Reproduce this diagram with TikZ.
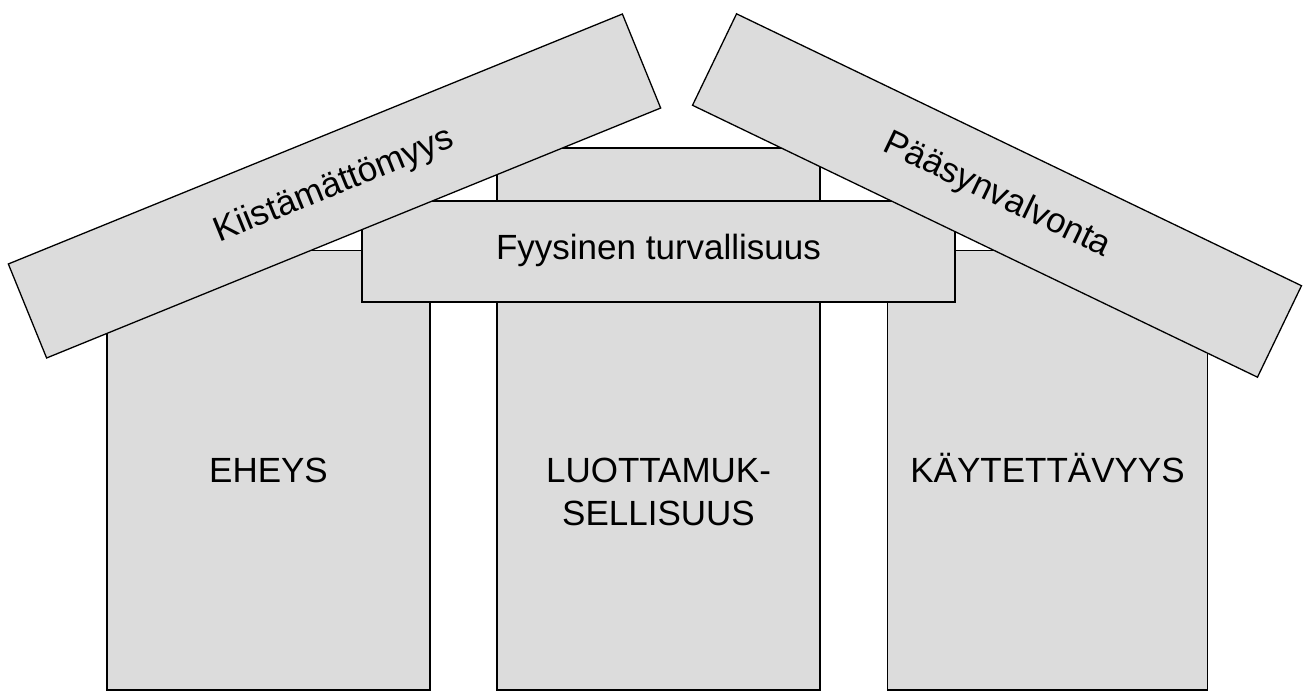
\documentclass[tikz,border=0pt]{standalone}
\usepackage{fontspec}
\setmainfont{Liberation Sans}
\definecolor{boxgray}{RGB}{220,220,220}
\tikzset{
  box/.style={rectangle, draw=black, fill=boxgray, line width=1.5pt, inner sep=0pt},
  lbl/.style={font=\fontsize{35}{43}\selectfont, inner sep=0pt, align=center},
  roof/.style={box, line width=1.3pt, font=\fontsize{35}{43}\selectfont, minimum height=101.5pt}
}
\begin{document}
\begin{tikzpicture}[x=1pt,y=-1pt]
\useasboundingbox (0,0) rectangle (1311,698);
% pillars
\node[box, minimum width=323pt, minimum height=439.5pt] (eheys) at (268.5,470.25) {};
\node[box, minimum width=320pt, minimum height=439.5pt] (kayt) at (1047.5,470.25) {};
\node[box, minimum width=323pt, minimum height=542pt] (luott) at (658.5,419) {};
% beam
\node[box, minimum width=593pt, minimum height=101pt] (fyys) at (658.5,251.5) {};
\node[lbl, anchor=base] (fyysT) at (658.5,259) {Fyysinen turvallisuus};
% pillar labels
\node[lbl, anchor=base] (eheysT) at (268.5,482.5) {EHEYS};
\node[lbl, anchor=base] (luottT) at (658.5,525.5) {LUOTTAMUK-\\SELLISUUS};
\node[lbl, anchor=base] (kaytT) at (1047.5,482.5) {KÄYTETTÄVYYS};
% roofs
\node[roof, minimum width=663pt, rotate=22.15] (kiista) at (334.5,186) {Kiistämättömyys};
\node[roof, minimum width=627pt, rotate=-25.7] (paasy) at (997,195.5) {Pääsynvalvonta};
\end{tikzpicture}
\end{document}
